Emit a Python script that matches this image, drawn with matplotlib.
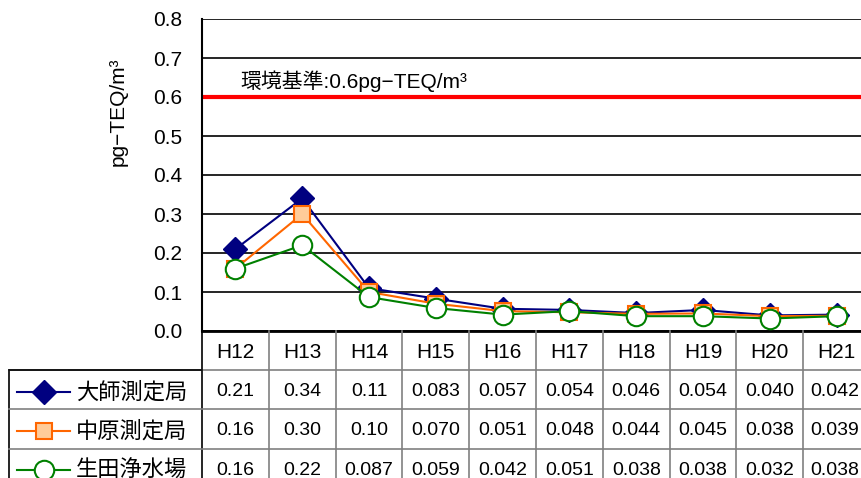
import matplotlib
matplotlib.use('Agg')
import matplotlib.pyplot as plt
from matplotlib.lines import Line2D

plt.rcParams['font.family'] = ['Liberation Sans', 'Noto Sans CJK JP', 'DejaVu Sans']

# data
years = ['H12', 'H13', 'H14', 'H15', 'H16', 'H17', 'H18', 'H19', 'H20', 'H21']
stations = ['大師測定局', '中原測定局', '生田浄水場']
daishi = [0.21, 0.34, 0.11, 0.083, 0.057, 0.054, 0.046, 0.054, 0.040, 0.042]
nakahara = [0.16, 0.30, 0.10, 0.070, 0.051, 0.048, 0.044, 0.045, 0.038, 0.039]
ikuta = [0.16, 0.22, 0.087, 0.059, 0.042, 0.051, 0.038, 0.038, 0.032, 0.038]
labels = [
    ['0.21', '0.34', '0.11', '0.083', '0.057', '0.054', '0.046', '0.054', '0.040', '0.042'],
    ['0.16', '0.30', '0.10', '0.070', '0.051', '0.048', '0.044', '0.045', '0.038', '0.039'],
    ['0.16', '0.22', '0.087', '0.059', '0.042', '0.051', '0.038', '0.038', '0.032', '0.038'],
]
standard = 0.6

W, H = 861, 478
fig = plt.figure(figsize=(W / 100, H / 100), dpi=100)

# plot area (right edge is cut off by the image border)
x0, x1 = 202, 870
ytop, ybot = 19, 331
ax = fig.add_axes([x0 / W, 1 - ybot / H, (x1 - x0) / W, (ybot - ytop) / H])

styles = [
    dict(color='#000080', marker='D', ms=12, mfc='#000080', mec='#000080'),
    dict(color='#FF6600', marker='s', ms=12, mfc='#FFCC99', mec='#FF6600', mew=1.5),
    dict(color='#008000', marker='o', ms=14, mfc='white', mec='#008000', mew=1.5),
]
series = [daishi, nakahara, ikuta]
xs = range(len(years))
for vals, st in zip(series, styles):
    ax.plot(xs, vals, lw=1.5, zorder=3, **st)

ax.axhline(standard, color='#FF0000', lw=3, zorder=2)
ax.text(0.08, 0.613, '環境基準:0.6pg−TEQ/m³', fontsize=15, va='bottom', ha='left')

ax.set_xlim(-0.5, len(years) - 0.5)
ax.set_ylim(0, 0.8)
ax.set_yticks([i / 10 for i in range(9)])
ax.set_yticklabels(['%.1f' % (i / 10) for i in range(9)], fontsize=15)
ax.set_xticks([])
ax.yaxis.grid(True, color='black', lw=1.2)
ax.set_axisbelow(True)
ax.tick_params(axis='y', length=0, pad=14)
for s in ['top', 'right']:
    ax.spines[s].set_visible(False)
ax.spines['left'].set_linewidth(1.5)
ax.spines['bottom'].set_linewidth(2)
fig.text(118 / W, 1 - 112 / H, 'pg−TEQ/m³', fontsize=15, rotation=90,
         ha='center', va='center')

# data table under the plot
tleft = 9
rowh = 39.2
nrows = 4
cw = (x1 - x0) / len(years)
lcols = (x0 - tleft) / cw
tax = fig.add_axes([tleft / W, 1 - (ybot + nrows * rowh) / H,
                    (x1 - tleft) / W, nrows * rowh / H])
tax.set_xlim(-0.5 - lcols, len(years) - 0.5)
tax.set_ylim(nrows, 0)
tax.axis('off')

gray = '#808080'
# vertical lines between year columns
for i in range(len(years) + 1):
    xv = i - 0.5
    tax.plot([xv, xv], [0, nrows], color=gray if i > 0 else 'black', lw=1.2, clip_on=False)
# left border of legend column
tax.plot([-0.5 - lcols] * 2, [1, nrows], color='black', lw=1.2, clip_on=False)
# horizontal lines
for r in range(1, nrows):
    tax.plot([-0.5 - lcols, len(years) - 0.5], [r, r], color=gray, lw=1.2, clip_on=False)
tax.plot([-0.5 - lcols, -0.5], [1, 1], color='black', lw=1.2, clip_on=False)

for i, y in enumerate(years):
    tax.text(i, 0.55, y, ha='center', va='center', fontsize=15)

for r, (name, st, row) in enumerate(zip(stations, styles, labels)):
    yc = r + 1.55
    xa = -0.5 - lcols + 0.12
    xb = xa + 0.8
    tax.add_line(Line2D([xa, xb], [yc, yc], lw=1.5, color=st['color']))
    tax.plot([(xa + xb) / 2], [yc], linestyle='none',
             **{k: v for k, v in st.items() if k != 'color'})
    tax.text(xb + 0.08, yc, name, ha='left', va='center', fontsize=16,
             family=['Noto Sans CJK JP'])
    for i, lab in enumerate(row):
        tax.text(i - 0.03 if i == len(row) - 1 else i, yc, lab,
                 ha='center', va='center', fontsize=14)

fig.savefig('out.png', dpi=100)
